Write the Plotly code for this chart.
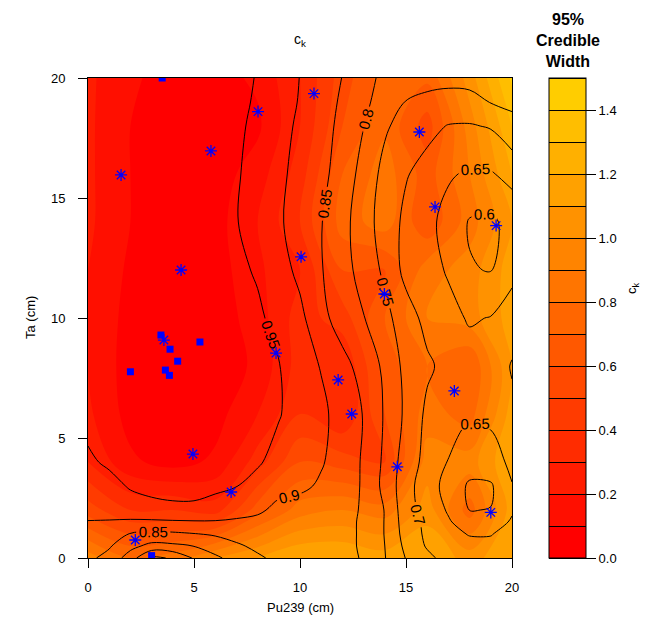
import plotly.graph_objects as go

# ---- 95% credible width surface (coarse grid, cm) ----
cw_x = [0, 2, 4, 6, 8, 10, 12, 14, 16, 18, 20]
cw_y = [0, 2, 4, 6, 8, 10, 12, 14, 16, 18, 20]
cw_z = [
    [0.95, 0.80, 0.85, 1.00, 1.10, 1.20, 1.20, 1.15, 1.20, 1.05, 1.20],  # y=0
    [0.55, 0.40, 0.40, 0.35, 0.65, 0.85, 0.90, 0.85, 1.05, 0.75, 1.15],  # y=2
    [0.30, 0.12, 0.06, 0.12, 0.35, 0.60, 0.55, 0.50, 0.95, 0.95, 1.20],  # y=4
    [0.22, 0.06, 0.03, 0.06, 0.20, 0.40, 0.30, 0.60, 0.85, 0.75, 1.15],  # y=6
    [0.20, 0.05, 0.02, 0.04, 0.12, 0.35, 0.30, 0.65, 0.80, 0.70, 1.10],  # y=8
    [0.20, 0.06, 0.02, 0.04, 0.15, 0.35, 0.45, 0.70, 0.90, 0.95, 1.15],  # y=10
    [0.20, 0.08, 0.03, 0.05, 0.18, 0.30, 0.60, 0.60, 0.85, 0.95, 1.15],  # y=12
    [0.22, 0.10, 0.04, 0.06, 0.20, 0.40, 0.75, 0.85, 0.62, 0.85, 1.10],  # y=14
    [0.22, 0.10, 0.04, 0.05, 0.15, 0.35, 0.70, 0.85, 0.65, 0.90, 1.20],  # y=16
    [0.22, 0.10, 0.04, 0.05, 0.08, 0.30, 0.60, 0.78, 0.55, 0.95, 1.30],  # y=18
    [0.22, 0.12, 0.05, 0.06, 0.12, 0.30, 0.55, 0.75, 0.72, 1.05, 1.42],  # y=20
]

# ---- posterior mean c_k surface (finer grid) ----
ck_x = list(range(0, 21))
ck_y = [0, 0.5, 1, 1.5, 2, 3, 4, 6, 8, 10, 12, 14, 16, 18, 19, 20]
ck_z = [
    # y=0
    [0.860, 0.835, 0.775, 0.690, 0.705, 0.755, 0.790, 0.820, 0.845, 0.858, 0.865,
     0.864, 0.857, 0.848, 0.802, 0.748, 0.712, 0.682, 0.672, 0.672, 0.680],
    # y=0.5
    [0.868, 0.855, 0.815, 0.785, 0.790, 0.801, 0.825, 0.845, 0.857, 0.862, 0.865,
     0.864, 0.860, 0.845, 0.800, 0.738, 0.695, 0.668, 0.660, 0.660, 0.672],
    # y=1
    [0.880, 0.865, 0.848, 0.840, 0.842, 0.848, 0.855, 0.862, 0.865, 0.866, 0.866,
     0.864, 0.860, 0.845, 0.798, 0.730, 0.690, 0.660, 0.648, 0.648, 0.665],
    # y=1.5
    [0.898, 0.895, 0.890, 0.890, 0.893, 0.895, 0.895, 0.890, 0.885, 0.875, 0.870,
     0.866, 0.860, 0.845, 0.798, 0.725, 0.688, 0.655, 0.625, 0.628, 0.655],
    # y=2
    [0.915, 0.925, 0.935, 0.942, 0.945, 0.945, 0.940, 0.925, 0.910, 0.885, 0.875,
     0.870, 0.862, 0.846, 0.798, 0.720, 0.680, 0.645, 0.599, 0.601, 0.645],
    # y=3
    [0.925, 0.940, 0.953, 0.957, 0.958, 0.958, 0.955, 0.951, 0.935, 0.918, 0.912,
     0.892, 0.868, 0.846, 0.785, 0.720, 0.670, 0.635, 0.592, 0.594, 0.648],
    # y=4
    [0.945, 0.955, 0.962, 0.966, 0.968, 0.967, 0.965, 0.960, 0.955, 0.935, 0.915,
     0.905, 0.875, 0.845, 0.790, 0.725, 0.685, 0.648, 0.625, 0.630, 0.660],
    # y=6
    [0.960, 0.966, 0.972, 0.975, 0.975, 0.975, 0.975, 0.972, 0.965, 0.953, 0.930,
     0.912, 0.878, 0.848, 0.795, 0.740, 0.690, 0.670, 0.655, 0.660, 0.692],
    # y=8
    [0.965, 0.970, 0.975, 0.976, 0.975, 0.975, 0.975, 0.972, 0.965, 0.952, 0.925,
     0.897, 0.865, 0.832, 0.790, 0.735, 0.708, 0.685, 0.672, 0.675, 0.703],
    # y=10
    [0.965, 0.970, 0.975, 0.976, 0.975, 0.974, 0.972, 0.965, 0.958, 0.935, 0.912,
     0.864, 0.828, 0.802, 0.765, 0.722, 0.685, 0.665, 0.645, 0.652, 0.680],
    # y=12
    [0.965, 0.970, 0.975, 0.976, 0.975, 0.973, 0.970, 0.960, 0.945, 0.920, 0.888,
     0.853, 0.818, 0.782, 0.740, 0.685, 0.668, 0.645, 0.603, 0.598, 0.632],
    # y=14
    [0.965, 0.970, 0.975, 0.976, 0.975, 0.971, 0.965, 0.952, 0.930, 0.906, 0.880,
     0.852, 0.815, 0.775, 0.725, 0.690, 0.662, 0.635, 0.596, 0.590, 0.618],
    # y=16
    [0.965, 0.970, 0.975, 0.976, 0.975, 0.972, 0.968, 0.954, 0.935, 0.910, 0.885,
     0.862, 0.830, 0.782, 0.735, 0.703, 0.685, 0.655, 0.644, 0.646, 0.665],
    # y=18
    [0.965, 0.970, 0.975, 0.976, 0.975, 0.973, 0.970, 0.958, 0.940, 0.916, 0.892,
     0.868, 0.838, 0.801, 0.757, 0.730, 0.712, 0.698, 0.696, 0.704, 0.735],
    # y=19
    [0.965, 0.970, 0.975, 0.976, 0.975, 0.973, 0.970, 0.960, 0.945, 0.920, 0.897,
     0.872, 0.843, 0.810, 0.780, 0.748, 0.735, 0.730, 0.735, 0.752, 0.760],
    # y=20
    [0.965, 0.970, 0.975, 0.976, 0.975, 0.973, 0.970, 0.960, 0.948, 0.925, 0.899,
     0.875, 0.849, 0.810, 0.793, 0.780, 0.770, 0.765, 0.765, 0.765, 0.768],
]

# ---- sample locations ----
square_x = [3.5, 3.44, 5.28, 3.87, 4.23, 2.0, 3.65, 3.84, 3.0]
square_y = [20.0, 9.29, 9.0, 8.7, 8.2, 7.76, 7.83, 7.61, 0.1]
star_x = [1.56, 5.8, 8.02, 10.66, 4.39, 10.05, 3.58, 8.87, 4.95, 6.75,
          2.23, 13.98, 11.8, 12.44, 14.59, 17.28, 19.0, 15.63, 16.37, 19.25]
star_y = [15.96, 16.96, 18.6, 19.35, 12.0, 12.55, 9.08, 8.54, 4.33, 2.75,
          0.75, 11.0, 7.42, 6.0, 3.8, 6.96, 1.9, 17.75, 14.63, 13.85]

tick_vals = [0, 5, 10, 15, 20]
cbar_ticks = [0.0, 0.2, 0.4, 0.6, 0.8, 1.0, 1.2, 1.4]

# 15 discrete red -> gold bands over 0 .. 1.5
n_bands = 15
steps = []
for k in range(n_bands):
    g = round(205 * k / (n_bands - 1))
    col = f"rgb(255,{g},0)"
    steps.append([k / n_bands, col])
    steps.append([(k + 1) / n_bands, col])

FONT = "Liberation Sans, Arial, sans-serif"

fig = go.Figure()

# filled credible-width surface
fig.add_trace(go.Contour(
    x=cw_x, y=cw_y, z=cw_z, zmin=0, zmax=1.5, colorscale=steps,
    contours=dict(start=0, end=1.5, size=0.1, coloring="fill", showlines=False),
    line=dict(width=0, smoothing=1.0), showscale=False, hoverinfo="skip",
))

# same surface, transparent, only to carry the banded colour bar
fig.add_trace(go.Contour(
    x=cw_x, y=cw_y, z=cw_z, zmin=0, zmax=1.5, colorscale=steps, opacity=0,
    contours=dict(start=0, end=1.5, size=0.1, coloring="fill", showlines=True),
    line=dict(width=1, color="black", smoothing=1.0), hoverinfo="skip",
    showscale=True,
    colorbar=dict(
        x=(549 - 88) / 424, xanchor="left", xpad=0,
        y=0.5, yanchor="middle", ypad=0, len=1, lenmode="fraction",
        thickness=37, thicknessmode="pixels",
        outlinecolor="black", outlinewidth=1,
        tickvals=cbar_ticks, ticktext=[f"{v:.1f}" for v in cbar_ticks],
        ticks="outside", ticklen=10, tickcolor="black", tickwidth=1,
        tickfont=dict(family=FONT, size=13, color="black"),
    ),
))

# c_k contour lines
fig.add_trace(go.Contour(
    x=ck_x, y=ck_y, z=ck_z,
    contours=dict(start=0.6, end=0.95, size=0.05, coloring="none",
                  showlabels=True,
                  labelfont=dict(family=FONT, size=15, color="black")),
    line=dict(color="black", width=1, smoothing=1.0),
    showscale=False, hoverinfo="skip",
))

fig.add_trace(go.Scatter(
    x=square_x, y=square_y, mode="markers",
    marker=dict(symbol="square", size=7, color="blue", line=dict(width=0)),
    hoverinfo="skip",
))
fig.add_trace(go.Scatter(
    x=star_x, y=star_y, mode="markers",
    marker=dict(symbol="asterisk-open", size=10, color="blue",
                line=dict(color="blue", width=1.3)),
    hoverinfo="skip",
))

axis_common = dict(
    range=[0, 20], tickvals=tick_vals, ticks="outside", ticklen=9,
    tickcolor="black", tickwidth=1, showline=True, mirror=True,
    linecolor="black", linewidth=1, showgrid=False, zeroline=False,
    tickfont=dict(family=FONT, size=13, color="black"),
)
fig.update_xaxes(**axis_common, ticklabelstandoff=8)
fig.update_yaxes(**axis_common, ticklabelstandoff=10)

fig.update_layout(
    width=648, height=633,
    margin=dict(l=88, r=136, t=78, b=75),
    paper_bgcolor="white", plot_bgcolor="white",
    showlegend=False,
    font=dict(family=FONT, size=13, color="black"),
    annotations=[
        dict(text="c<sub>k</sub>", x=0.5, y=(558 - 40) / 480, xref="paper", yref="paper",
             showarrow=False, font=dict(size=14), xanchor="center", yanchor="middle"),
        dict(text="Pu239 (cm)", x=0.5, y=(558 - 607) / 480, xref="paper", yref="paper",
             showarrow=False, font=dict(size=13), xanchor="center", yanchor="middle"),
        dict(text="Ta (cm)", x=(30 - 88) / 424, y=0.5, xref="paper", yref="paper",
             showarrow=False, textangle=-90, font=dict(size=13),
             xanchor="center", yanchor="middle"),
        dict(text="<b>95%<br>Credible<br>Width</b>", x=(568 - 88) / 424,
             y=(558 - 40) / 480, xref="paper", yref="paper", showarrow=False,
             font=dict(size=16), xanchor="center", yanchor="middle", align="center"),
        dict(text="c<sub>k</sub>", x=(632 - 88) / 424, y=(558 - 288) / 480,
             xref="paper", yref="paper", showarrow=False, textangle=-90,
             font=dict(size=13), xanchor="center", yanchor="middle"),
    ],
)

fig.write_html("out.html")
